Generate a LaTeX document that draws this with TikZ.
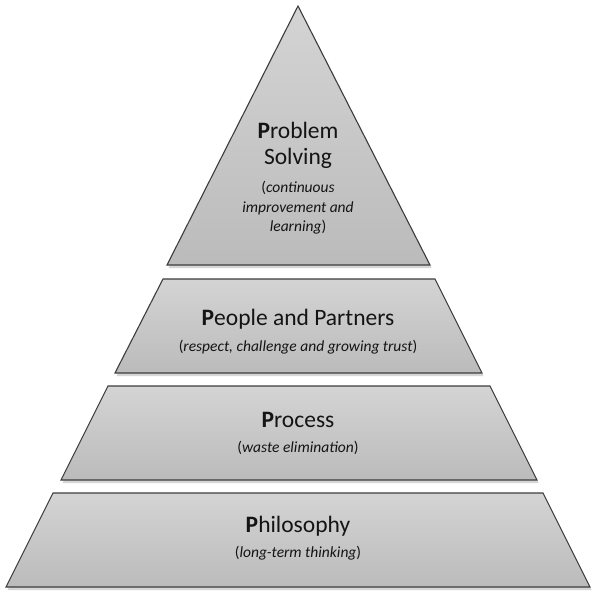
\documentclass[tikz,border=0pt]{standalone}
\usepackage{fontspec}
\setmainfont{Carlito}
\usetikzlibrary{shadows}
\definecolor{layeredge}{HTML}{3C3C3C}
\definecolor{layertop}{HTML}{D4D4D4}
\definecolor{layerbottom}{HTML}{BBBBBB}
\definecolor{layershadow}{HTML}{D6D6D6}
\definecolor{labeltext}{HTML}{141414}
\tikzset{
  layer/.style={draw=layeredge, line width=1.1pt, line join=miter,
    top color=layertop, bottom color=layerbottom,
    drop shadow={shadow xshift=1.5pt, shadow yshift=-3pt, fill=layershadow, opacity=1}},
  titletext/.style={anchor=base, text=labeltext, inner sep=0pt, font=\fontsize{23.5}{25}\selectfont},
  subtext/.style={anchor=base, text=labeltext, inner sep=0pt, font=\fontsize{15.5}{19}\selectfont}
}
\begin{document}
\begin{tikzpicture}[x=1pt,y=-1pt]
\useasboundingbox[fill=white] (0,0) rectangle (595,600);
% top triangle
\draw[layer] (298,6) -- (430,265) -- (167,265) -- cycle;
% second layer
\draw[layer] (163,279) -- (435,279) -- (482,373) -- (115,373) -- cycle;
% third layer
\draw[layer] (108,386) -- (490,386) -- (537,480) -- (61,480) -- cycle;
% bottom layer
\draw[layer] (53,493) -- (543,493) -- (590,587) -- (6,587) -- cycle;

% labels
\node[titletext] (problem) at (298,138) {\textbf{P}roblem};
\node[titletext] (solving) at (298,164) {Solving};
\node[subtext] (problemsub1) at (298,192) {(\textit{continuous}};
\node[subtext] (problemsub2) at (298,212) {\textit{improvement and}};
\node[subtext] (problemsub3) at (298,231) {\textit{learning})};

\node[titletext] (people) at (298,325) {\textbf{P}eople and Partners};
\node[subtext] (peoplesub) at (298,351) {(\textit{respect, challenge and growing trust})};

\node[titletext] (process) at (298,427) {\textbf{P}rocess};
\node[subtext] (processsub) at (298,452) {(\textit{waste elimination})};

\node[titletext] (philosophy) at (298,532) {\textbf{P}hilosophy};
\node[subtext] (philosophysub) at (298,557) {(\textit{long-term thinking})};
\end{tikzpicture}
\end{document}
